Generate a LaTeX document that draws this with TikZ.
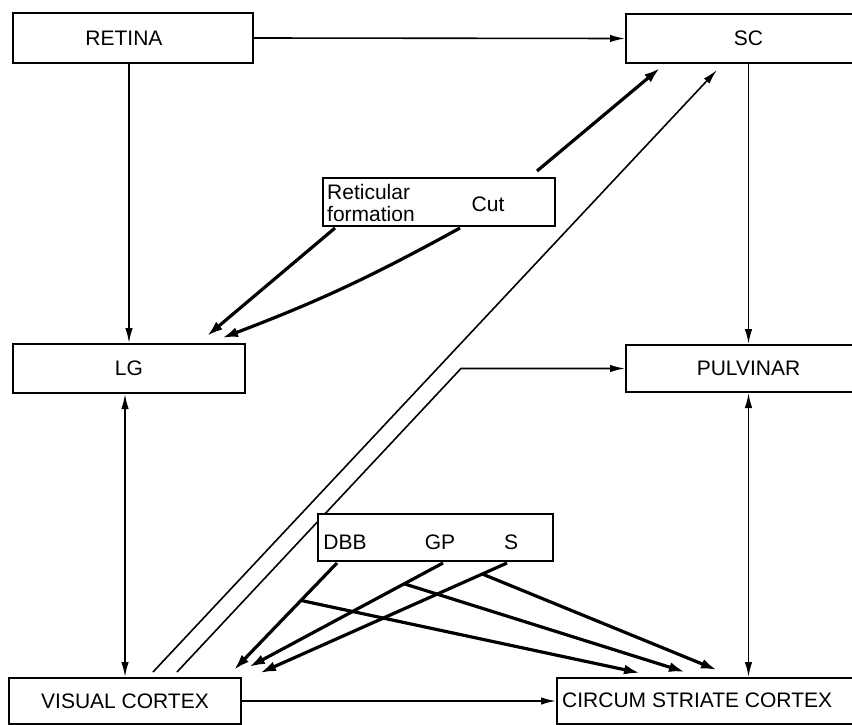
\documentclass[tikz,border=0pt]{standalone}
\usepackage{fontspec}
\setmainfont{Liberation Sans}
\usetikzlibrary{arrows.meta,calc,backgrounds}
\newcommand\lblfont{\fontsize{21}{22}\selectfont}
\begin{document}
\begin{tikzpicture}[x=1pt,y=-1pt,
  box/.style={draw, line width=2pt, fill=white, inner sep=0pt, anchor=north west, font=\lblfont},
  lbl/.style={inner sep=0pt, font=\lblfont},
  thinarr/.style={line width=1.6pt, -{Latex[length=15pt,width=7.5pt]}},
  botharr/.style={line width=1.6pt, {Latex[length=15pt,width=7.5pt]}-{Latex[length=15pt,width=7.5pt]}},
  thickarr/.style={line width=3.2pt, -{Latex[length=16pt,width=10pt]}}]
\useasboundingbox (0,0) rectangle (852,725);
\clip (0,0) rectangle (852,725);
% boxes
\node[box, minimum width=240pt, minimum height=50pt] (retina) at (12,12) {};
\node[box, minimum width=245pt, minimum height=49pt] (sc) at (625,13) {SC};
\node[box, minimum width=232pt, minimum height=49pt] (lg) at (12,343) {LG};
\node[box, minimum width=245pt, minimum height=47pt] (pulvinar) at (625,344) {PULVINAR};
\node[box, minimum width=232pt, minimum height=48pt] (ret) at (322,177) {};
\node[box, minimum width=235pt, minimum height=47pt] (dbbbox) at (317,513) {};
\node[box, minimum width=232pt, minimum height=46pt] (vc) at (8,677) {VISUAL CORTEX};
\node[box, minimum width=310pt, minimum height=46pt] (circum) at (556,677) {};
% labels
\node[lbl] (retinatxt) at (124,38) {RETINA};
\node[lbl, anchor=north west, align=left] (rettxt) at (327,184) {Reticular\\formation};
\node[lbl] (cut) at (488,204) {Cut};
\node[lbl, anchor=base] (dbb) at (345,549) {DBB};
\node[lbl, anchor=base] (gp) at (440,549) {GP};
\node[lbl, anchor=base] (s) at (511,549) {S};
\node[lbl, anchor=west] (cstxt) at (562,700) {CIRCUM STRIATE CORTEX};
% connectors
\begin{scope}[on background layer]
\draw[thinarr] (retina.east) -- (sc.west);
\draw[thinarr] (retina.south -| lg.north) -- (lg.north);
\draw[thinarr] (sc.south) -- (pulvinar.north);
\draw[botharr] (vc.north |- lg.south) -- (vc.north);
\draw[botharr] (pulvinar.south) -- (pulvinar.south |- circum.north);
\draw[thinarr] (vc.east) -- (circum.west);
% cut -> SC
\draw[thickarr] ([xshift=-19pt,yshift=6pt]ret.north east) -- ([xshift=35pt,yshift=-4pt]sc.south west);
% visual cortex -> SC and pulvinar
\draw[thinarr] ([xshift=145pt,yshift=5pt]vc.north west) -- ([xshift=92pt,yshift=-6pt]sc.south west);
\coordinate (bendx) at (461,0);
\draw[thinarr] ([xshift=169pt,yshift=5pt]vc.north west) -- (pulvinar.west -| bendx) -- (pulvinar.west);
% reticular -> LG
\draw[thickarr] ([xshift=13pt,yshift=-1pt]ret.south west) -- ([xshift=-39pt,yshift=7pt]lg.north east);
\draw[thickarr] ([xshift=-96pt,yshift=-1pt]ret.south east) to[bend left=4] ([xshift=-24pt,yshift=5pt]lg.north east);
% DBB GP S
\coordinate (dbbS) at ([xshift=20pt,yshift=-1pt]dbbbox.south west);
\coordinate (gpS) at ([xshift=126pt,yshift=-1pt]dbbbox.south west);
\coordinate (sS) at ([xshift=190pt,yshift=-1pt]dbbbox.south west);
\coordinate (vcA) at ([xshift=-8pt,yshift=7pt]vc.north east);
\coordinate (vcB) at ([xshift=7pt,yshift=10pt]vc.north east);
\coordinate (vcC) at ([xshift=18pt,yshift=4pt]vc.north east);
\coordinate (csA) at ([xshift=84pt,yshift=4pt]circum.north west);
\coordinate (csB) at ([xshift=129pt,yshift=5pt]circum.north west);
\coordinate (csC) at ([xshift=161pt,yshift=7pt]circum.north west);
\draw[thickarr] (dbbS) -- (vcA);
\draw[thickarr] (gpS) -- (vcB);
\draw[thickarr] (sS) -- (vcC);
\draw[thickarr] ($(dbbS)!0.35!(vcA)$) -- (csA);
\draw[thickarr] ($(gpS)!0.2!(vcB)$) -- (csB);
\draw[thickarr] ($(sS)!0.1!(vcC)$) -- (csC);
\end{scope}
\end{tikzpicture}
\end{document}
